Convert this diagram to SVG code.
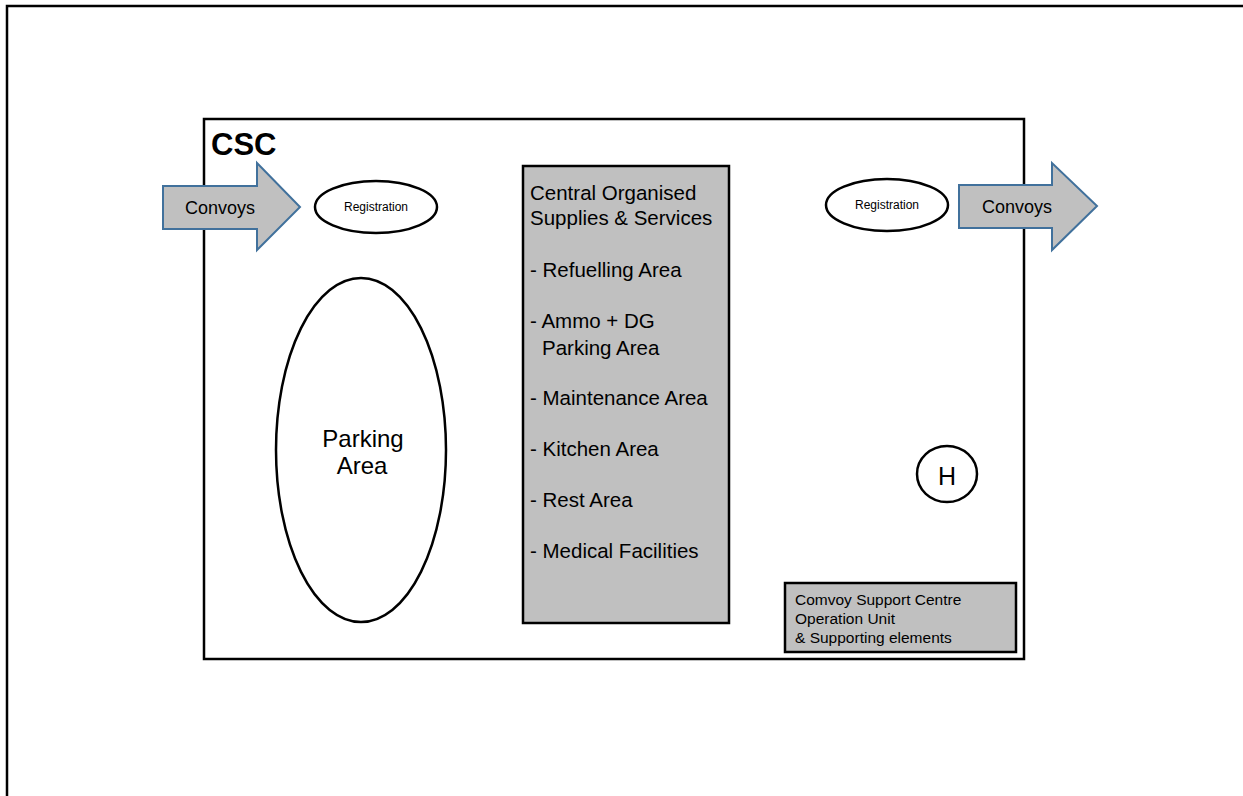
<svg xmlns="http://www.w3.org/2000/svg" width="1243" height="796" viewBox="0 0 1243 796">
  <style>
    text { font-family: "Liberation Sans", Arial, sans-serif; fill: #000; }
    .line { fill: none; stroke: #000; stroke-width: 2.5; }
    .box { fill: #fff; stroke: #000; stroke-width: 2.5; }
    .grey { fill: #c0c0c0; stroke: #000; stroke-width: 2.5; }
    .arrow { fill: #c0c0c0; stroke: #41719c; stroke-width: 2; stroke-linejoin: miter; }
    .oval { fill: #fff; stroke: #000; stroke-width: 2.5; }
  </style>

  <rect width="1243" height="796" fill="#fff"/>

  <!-- page frame, running off the right and bottom edges -->
  <rect class="line" x="7" y="6" width="1300" height="850"/>

  <!-- CSC compound -->
  <g id="csc">
    <rect class="box" x="204" y="119" width="820" height="540"/>
    <text x="211" y="155" font-size="31" font-weight="bold">CSC</text>
  </g>

  <!-- inbound convoys -->
  <g id="convoys-in">
    <path class="arrow" d="M163,186 H257 V163 L300,207 L257,250 V229 H163 Z"/>
    <text x="220" y="214" font-size="18" text-anchor="middle">Convoys</text>
  </g>

  <g id="registration-in">
    <ellipse class="oval" cx="376" cy="207" rx="61" ry="26"/>
    <text x="376" y="211" font-size="12" text-anchor="middle">Registration</text>
  </g>

  <g id="registration-out">
    <ellipse class="oval" cx="887" cy="205" rx="61" ry="26"/>
    <text x="887" y="209" font-size="12" text-anchor="middle">Registration</text>
  </g>

  <!-- outbound convoys -->
  <g id="convoys-out">
    <path class="arrow" d="M959,185 H1052 V163 L1097,206 L1052,250 V228 H959 Z"/>
    <text x="1017" y="213" font-size="18" text-anchor="middle">Convoys</text>
  </g>

  <g id="parking">
    <ellipse class="oval" cx="361" cy="450" rx="85" ry="172"/>
    <text x="363" y="447" font-size="24" text-anchor="middle">Parking</text>
    <text x="362" y="474" font-size="24" text-anchor="middle">Area</text>
  </g>

  <!-- central supplies and services -->
  <g id="supplies">
    <rect class="grey" x="523" y="166" width="206" height="457"/>
    <g font-size="20.5">
      <text x="530" y="200">Central Organised</text>
      <text x="530" y="225">Supplies &amp; Services</text>
      <text x="530" y="277">- Refuelling Area</text>
      <text x="530" y="328">- Ammo + DG</text>
      <text x="542" y="355">Parking Area</text>
      <text x="530" y="405">- Maintenance Area</text>
      <text x="530" y="456">- Kitchen Area</text>
      <text x="530" y="507">- Rest Area</text>
      <text x="530" y="558">- Medical Facilities</text>
    </g>
  </g>

  <g id="helipad">
    <ellipse class="oval" cx="947" cy="474" rx="30" ry="28"/>
    <text x="947" y="485" font-size="25" text-anchor="middle">H</text>
  </g>

  <g id="operation-unit">
    <rect class="grey" x="785" y="583" width="231" height="69"/>
    <g font-size="15.5">
      <text x="795" y="605">Comvoy Support Centre</text>
      <text x="795" y="624">Operation  Unit</text>
      <text x="795" y="643">&amp; Supporting elements</text>
    </g>
  </g>
</svg>
